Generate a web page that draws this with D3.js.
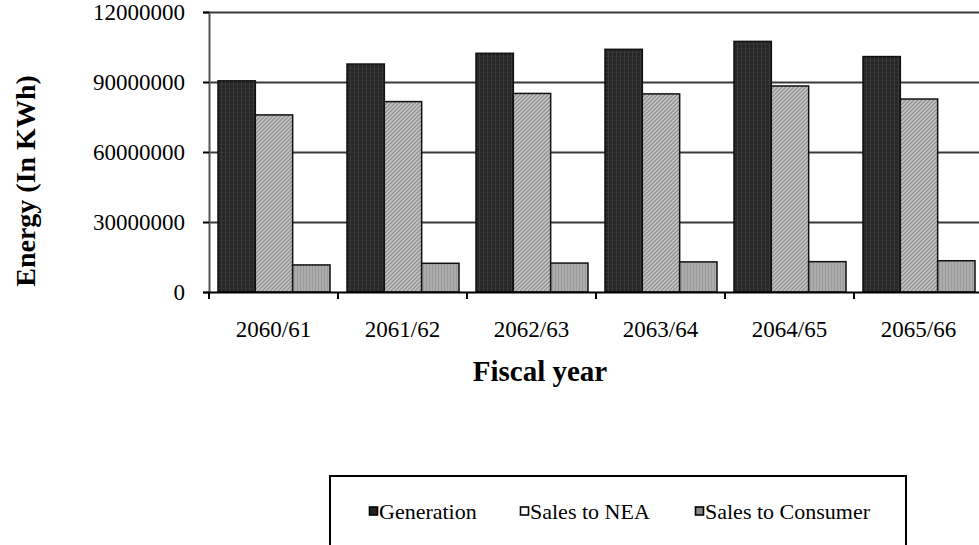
<!DOCTYPE html>
<html>
<head>
<meta charset="utf-8">
<script src="https://cdn.jsdelivr.net/npm/d3@7"></script>
<style>
  html, body { margin: 0; padding: 0; background: #fff; }
  svg { display: block; font-family: "Liberation Serif", "Times New Roman", serif; }
</style>
</head>
<body>
<svg id="chart" width="979" height="545"></svg>
<script>
// Fiscal years and energy figures (kWh)
const years = ["2060/61", "2061/62", "2062/63", "2063/64", "2064/65", "2065/66"];
const generation = [90500000, 97700000, 102300000, 104000000, 107400000, 100900000];
const salesNEA = [75900000, 81600000, 85100000, 84900000, 88300000, 82700000];
const salesConsumer = [11600000, 12300000, 12400000, 12900000, 13000000, 13400000];
const seriesNames = ["Generation", "Sales to NEA", "Sales to Consumer"];
const tickValues = [0, 30000000, 60000000, 90000000, 120000000];
const tickLabels = ["0", "30000000", "60000000", "90000000", "12000000"];

const FONT = "Liberation Serif, Times New Roman, serif";
const svg = d3.select("#chart");

// Fill patterns for the three series
const defs = svg.append("defs");
const pGen = defs.append("pattern").attr("id", "pGen").attr("patternUnits", "userSpaceOnUse")
  .attr("width", 4).attr("height", 4);
pGen.append("rect").attr("width", 4).attr("height", 4).attr("fill", "#262626");
pGen.append("rect").attr("x", 0).attr("width", 1).attr("height", 4).attr("fill", "#3a3a3a");
pGen.append("rect").attr("y", 0).attr("width", 4).attr("height", 1).attr("fill", "#333");

const pNEA = defs.append("pattern").attr("id", "pNEA").attr("patternUnits", "userSpaceOnUse")
  .attr("width", 4).attr("height", 4);
pNEA.append("rect").attr("width", 4).attr("height", 4).attr("fill", "#c4c4c4");
pNEA.append("path").attr("d", "M-1,1 L1,-1 M0,4 L4,0 M3,5 L5,3")
  .attr("stroke", "#8a8a8a").attr("stroke-width", 1.2);

const pCon = defs.append("pattern").attr("id", "pCon").attr("patternUnits", "userSpaceOnUse")
  .attr("width", 3).attr("height", 3);
pCon.append("rect").attr("width", 3).attr("height", 3).attr("fill", "#acacac");
pCon.append("rect").attr("x", 1).attr("width", 1).attr("height", 3).attr("fill", "#9a9a9a");

const fills = ["url(#pGen)", "url(#pNEA)", "url(#pCon)"];
const seriesData = [generation, salesNEA, salesConsumer];

// Scales
const x0 = d3.scaleBand().domain(years).range([209, 983]).padding(0);
const x1 = d3.scaleBand().domain(seriesNames)
  .range([9, x0.bandwidth() - 8]).padding(0);
const y = d3.scaleLinear().domain([0, 120000000]).range([292, 12]);

// Horizontal gridlines
svg.append("g").selectAll("line")
  .data(tickValues.slice(1))
  .join("line")
  .attr("x1", 209).attr("x2", 979)
  .attr("y1", d => Math.round(y(d)) + 0.5).attr("y2", d => Math.round(y(d)) + 0.5)
  .attr("stroke", "#3a3a3a").attr("stroke-width", 2);

// Bars
const groups = svg.append("g").selectAll("g")
  .data(years)
  .join("g")
  .attr("transform", d => `translate(${x0(d)},0)`);

groups.selectAll("rect")
  .data((d, i) => seriesNames.map((s, k) => ({ s, k, v: seriesData[k][i] })))
  .join("rect")
  .attr("x", d => x1(d.s))
  .attr("width", x1.bandwidth())
  .attr("y", d => y(d.v))
  .attr("height", d => y(0) - y(d.v))
  .attr("fill", d => fills[d.k])
  .attr("stroke", "#111")
  .attr("stroke-width", 1.5);

// Y axis
const yAxis = d3.axisLeft(y).tickValues(tickValues)
  .tickFormat((d, i) => tickLabels[i]).tickSize(6).tickPadding(18);
const gy = svg.append("g").attr("transform", "translate(209,0)").call(yAxis);
gy.attr("font-family", FONT).attr("font-size", 23);
gy.select(".domain").attr("stroke", "#555").attr("stroke-width", 2);
gy.selectAll(".tick line").attr("stroke", "#000").attr("stroke-width", 2);
gy.selectAll(".tick text").attr("fill", "#000").attr("dy", "0.33em");

// X axis
const xAxis = d3.axisBottom(x0).tickSize(0).tickPadding(0);
const gx = svg.append("g").attr("transform", "translate(0,292)").call(xAxis);
gx.attr("font-family", FONT).attr("font-size", 23);
gx.select(".domain").remove();
gx.selectAll(".tick text").attr("fill", "#000").attr("dy", 0).attr("y", 45);
svg.append("line").attr("x1", 209).attr("x2", 979).attr("y1", 292.5).attr("y2", 292.5)
  .attr("stroke", "#000").attr("stroke-width", 2);
// Category boundary ticks
svg.append("g").selectAll("line")
  .data(years)
  .join("line")
  .attr("x1", d => x0(d)).attr("x2", d => x0(d))
  .attr("y1", 292).attr("y2", 299)
  .attr("stroke", "#000").attr("stroke-width", 2);

// Axis titles
svg.append("text")
  .attr("transform", "translate(35,181) rotate(-90)")
  .attr("text-anchor", "middle")
  .attr("font-family", FONT)
  .attr("font-size", 28).attr("font-weight", "bold")
  .text("Energy (In KWh)");
svg.append("text")
  .attr("x", 540).attr("y", 381)
  .attr("text-anchor", "middle")
  .attr("font-family", FONT)
  .attr("font-size", 29).attr("font-weight", "bold")
  .text("Fiscal year");

// Legend
const legend = svg.append("g");
legend.append("path")
  .attr("d", "M330,548 V476 H906 V548")
  .attr("fill", "none").attr("stroke", "#000").attr("stroke-width", 2);
const legendX = [369, 520, 695];
const items = legend.selectAll("g.item")
  .data(seriesNames)
  .join("g").attr("class", "item")
  .attr("transform", (d, i) => `translate(${legendX[i]},0)`);
items.append("rect")
  .attr("x", 0.5).attr("y", 507).attr("width", 8).attr("height", 8)
  .attr("fill", (d, i) => i === 0 ? "#222" : i === 1 ? "#fff" : "#888")
  .attr("stroke", "#000").attr("stroke-width", 1.6);
items.append("text")
  .attr("x", 10).attr("y", 519)
  .attr("font-family", FONT)
  .attr("font-size", 22)
  .text(d => d);
</script>
</body>
</html>
